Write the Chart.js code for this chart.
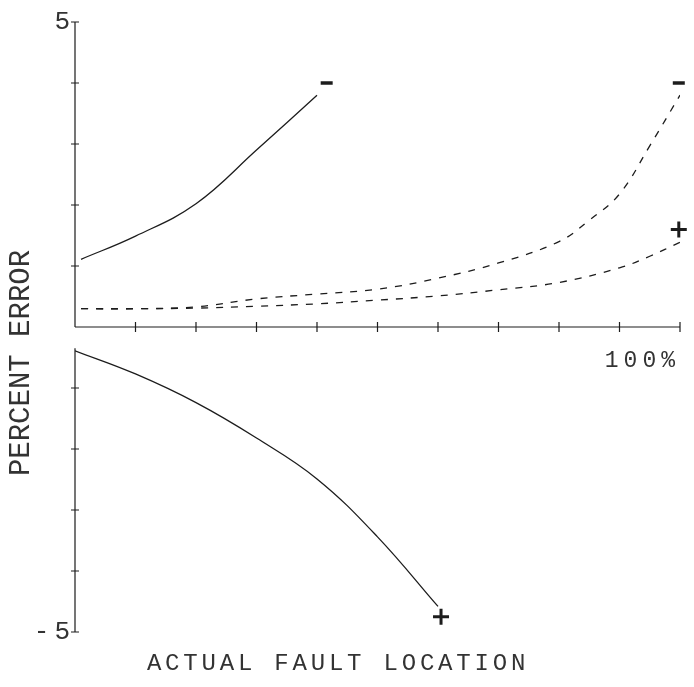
<!DOCTYPE html>
<html>
<head>
<meta charset="utf-8">
<script src="https://cdn.jsdelivr.net/npm/chart.js@4"></script>
<style>
  html, body { margin: 0; padding: 0; background: #fff; }
  canvas { display: block; }
</style>
</head>
<body>
<canvas id="chart" width="694" height="687"></canvas>
<script>
// Percent error of the fault locator against actual fault location (% of line length)
const xTickValues = [0, 10, 20, 30, 40, 50, 60, 70, 80, 90, 100];
const yTickValues = [-5, -4, -3, -2, -1, 1, 2, 3, 4, 5];

const solidUpperLoc = [1, 10, 20, 30, 40];
const solidUpperErr = [1.11, 1.49, 2.02, 2.90, 3.80];

const solidLowerLoc = [0, 10, 20, 30, 40, 50, 60];
const solidLowerErr = [-0.39, -0.77, -1.24, -1.82, -2.49, -3.44, -4.58];

const dashedUpperLoc = [1, 10, 20, 30, 40, 50, 60, 70, 80, 85, 90, 95, 100];
const dashedUpperErr = [0.30, 0.30, 0.33, 0.46, 0.54, 0.62, 0.80, 1.05, 1.40, 1.75, 2.18, 2.97, 3.80];

const dashedLowerLoc = [1, 10, 20, 30, 40, 50, 60, 70, 80, 90, 95, 100];
const dashedLowerErr = [0.30, 0.30, 0.31, 0.34, 0.38, 0.44, 0.51, 0.61, 0.73, 0.97, 1.16, 1.39];

const minusMarkLoc = [41.6, 99.8];
const minusMarkErr = [4.0, 4.0];
const plusMarkLoc = [99.8, 60.5];
const plusMarkErr = [1.6, -4.75];

const xTitle = 'ACTUAL FAULT LOCATION';
const yTitle = 'PERCENT ERROR';

const INK = '#1c1c1c';
const TEXT = '#333';
const pts = (xs, ys) => xs.map((x, i) => ({ x, y: ys[i] }));

const curve = (xs, ys, dash) => ({
  type: 'line',
  data: pts(xs, ys),
  borderColor: INK,
  borderWidth: 1.3,
  borderDash: dash,
  pointRadius: 0,
  tension: 0.4,
  fill: false
});

const marks = (xs, ys, style, radius, width) => ({
  type: 'scatter',
  data: pts(xs, ys),
  pointStyle: style,
  pointRadius: radius,
  borderWidth: width,
  borderColor: INK,
  backgroundColor: INK,
  clip: false
});

// Plotter-style axes: crossing tick marks, x axis through zero
const plotterAxes = {
  id: 'plotterAxes',
  beforeDatasetsDraw(chart) {
    const { ctx } = chart;
    const xs = chart.scales.x, ys = chart.scales.y;
    const x0 = xs.getPixelForValue(0);
    const y0 = ys.getPixelForValue(0);
    ctx.save();
    ctx.strokeStyle = INK;
    ctx.lineWidth = 1.2;
    ctx.beginPath();
    // vertical axis (upper and lower parts)
    ctx.moveTo(x0, ys.getPixelForValue(5));
    ctx.lineTo(x0, y0);
    ctx.moveTo(x0, ys.getPixelForValue(-0.35));
    ctx.lineTo(x0, ys.getPixelForValue(-5));
    // horizontal axis
    ctx.moveTo(x0, y0);
    ctx.lineTo(xs.getPixelForValue(100), y0);
    yTickValues.forEach(v => {
      const p = ys.getPixelForValue(v);
      ctx.moveTo(x0 - 4, p);
      ctx.lineTo(x0 + 4, p);
    });
    xTickValues.slice(1).forEach(v => {
      const p = xs.getPixelForValue(v);
      ctx.moveTo(p, y0 - 5);
      ctx.lineTo(p, y0 + 5);
    });
    ctx.stroke();
    ctx.restore();
  },
  beforeDraw(chart) {
    chart.ctx.letterSpacing = '5px';
  },
  afterDraw(chart) {
    const { ctx } = chart;
    ctx.save();
    ctx.fillStyle = TEXT;
    ctx.textBaseline = 'middle';
    ctx.textAlign = 'center';
    ctx.font = '24px "Liberation Mono"';
    ctx.letterSpacing = '3.8px';
    ctx.fillText(xTitle, 338, 664);
    ctx.translate(21, 363);
    ctx.rotate(-Math.PI / 2);
    ctx.font = '29px "Liberation Mono"';
    ctx.letterSpacing = '0px';
    ctx.fillText(yTitle, 0, 0);
    ctx.restore();
    ctx.letterSpacing = '0px';
  }
};

new Chart(document.getElementById('chart'), {
  data: {
    datasets: [
      curve(solidUpperLoc, solidUpperErr, []),
      curve(solidLowerLoc, solidLowerErr, []),
      curve(dashedUpperLoc, dashedUpperErr, [7, 8]),
      curve(dashedLowerLoc, dashedLowerErr, [7, 8]),
      marks(minusMarkLoc, minusMarkErr, 'line', 6, 3.5),
      marks(plusMarkLoc, plusMarkErr, 'cross', 8, 3)
    ]
  },
  options: {
    responsive: false,
    animation: false,
    events: [],
    layout: { padding: { left: 0, top: 22, right: 14, bottom: 55 } },
    plugins: { legend: { display: false }, tooltip: { enabled: false } },
    scales: {
      x: {
        type: 'linear',
        min: 0,
        max: 100,
        position: { y: 0 },
        grid: { display: false, drawTicks: false },
        border: { display: false },
        afterFit(scale) { scale.paddingLeft = 0; scale.paddingRight = 0; },
        ticks: {
          stepSize: 10,
          autoSkip: false,
          maxRotation: 0,
          align: 'end',
          padding: 20,
          color: TEXT,
          font: { family: 'Liberation Mono', size: 23 },
          callback: v => (v === 100 ? '100%' : '')
        }
      },
      y: {
        type: 'linear',
        min: -5,
        max: 5,
        position: 'left',
        grid: { display: false, drawTicks: false },
        border: { display: false },
        afterFit(scale) { scale.width = 75; },
        ticks: {
          stepSize: 1,
          autoSkip: false,
          padding: 0,
          color: TEXT,
          font: { family: 'Liberation Mono', size: 26 },
          callback: v => (v === 5 ? '5' : v === -5 ? '-5' : '')
        }
      }
    }
  },
  plugins: [plotterAxes]
});
</script>
</body>
</html>
